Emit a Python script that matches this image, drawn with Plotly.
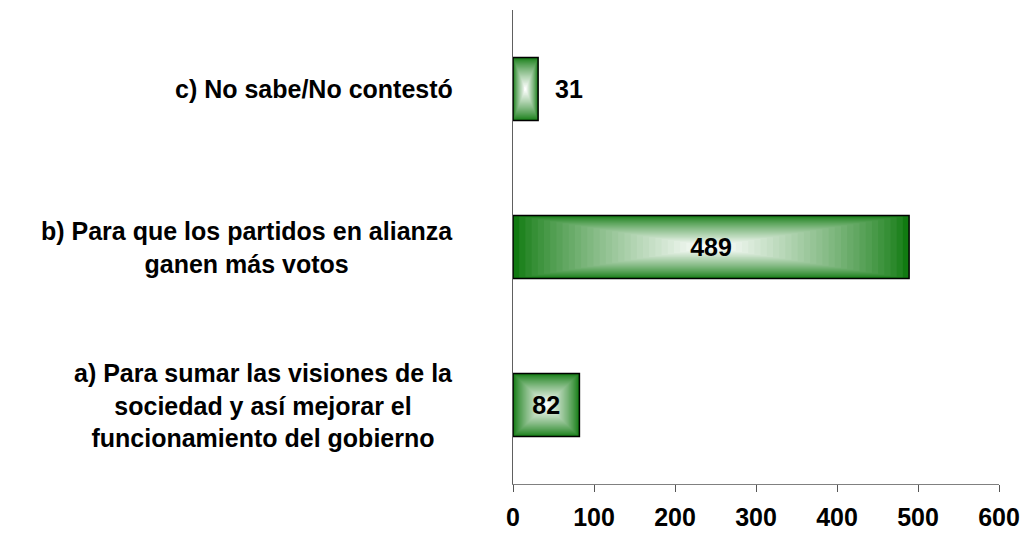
import plotly.graph_objects as go

categories = [
    "a) Para sumar las visiones de la<br>sociedad y así mejorar el<br>funcionamiento del gobierno",
    "b) Para que los partidos en alianza<br>ganen más votos",
    "c) No sabe/No contestó",
]
values = [82, 489, 31]
x_ticks = [0, 100, 200, 300, 400, 500, 600]

FONT = "Arial, 'Liberation Sans', sans-serif"
BAR_W = 0.4
EDGE = (17, 122, 17)
N = 32

fig = go.Figure()
ys = list(range(len(categories)))

for k in range(N):
    t = 0.5 * k / N
    f = (k / (N - 1)) ** 0.8
    c = tuple(round(EDGE[i] + (255 - EDGE[i]) * f) for i in range(3))
    fig.add_trace(go.Bar(
        y=ys, x=[v * (1 - 2 * t) for v in values], base=[v * t for v in values],
        width=[BAR_W * (1 - 2 * t)] * len(values), orientation="h",
        marker=dict(color="rgb(%d,%d,%d)" % c, line=dict(width=0)),
        hoverinfo="skip", showlegend=False,
    ))

inside = [v >= 60 for v in values]
fig.add_trace(go.Bar(
    y=ys, x=values, width=[BAR_W] * len(values), orientation="h",
    marker=dict(color="rgba(0,0,0,0)", line=dict(color="black", width=1.5)),
    text=[str(v) if ins else "" for v, ins in zip(values, inside)],
    textposition="inside", insidetextanchor="middle", constraintext="none",
    insidetextfont=dict(family=FONT, size=25, color="black", weight="bold"),
    showlegend=False, hoverinfo="skip",
))

for y, v, ins in zip(ys, values, inside):
    if not ins:
        fig.add_annotation(
            x=v, xref="x", y=y, yref="y", text=str(v), showarrow=False,
            xanchor="left", yanchor="middle", xshift=15,
            font=dict(family=FONT, size=25, color="black", weight="bold"),
        )

for y, lab in zip(ys, categories):
    fig.add_annotation(
        x=0, xref="paper", y=y, yref="y", text=lab, showarrow=False,
        xanchor="right", yanchor="middle", align="center", xshift=-58,
        font=dict(family=FONT, size=25, color="black", weight="bold"),
    )

fig.update_layout(
    barmode="overlay", width=1024, height=537,
    margin=dict(l=513, r=25, t=10, b=53, autoexpand=False),
    plot_bgcolor="white", paper_bgcolor="white",
    xaxis=dict(range=[0, 600], tickvals=x_ticks, ticks="outside", ticklen=7,
               tickcolor="#555555", showline=True, linecolor="#808080", linewidth=1,
               showgrid=False, zeroline=False, ticklabelstandoff=4, automargin=False,
               tickfont=dict(family=FONT, size=25, color="black", weight="bold")),
    yaxis=dict(range=[-0.5, 2.5], showticklabels=False, showline=True, automargin=False,
               linecolor="#606060", linewidth=1, showgrid=False, zeroline=False, ticks=""),
)

fig.write_html(
    "out.html",
    config={"displayModeBar": False, "responsive": False},
    post_script="document.body.style.margin='0';",
)
